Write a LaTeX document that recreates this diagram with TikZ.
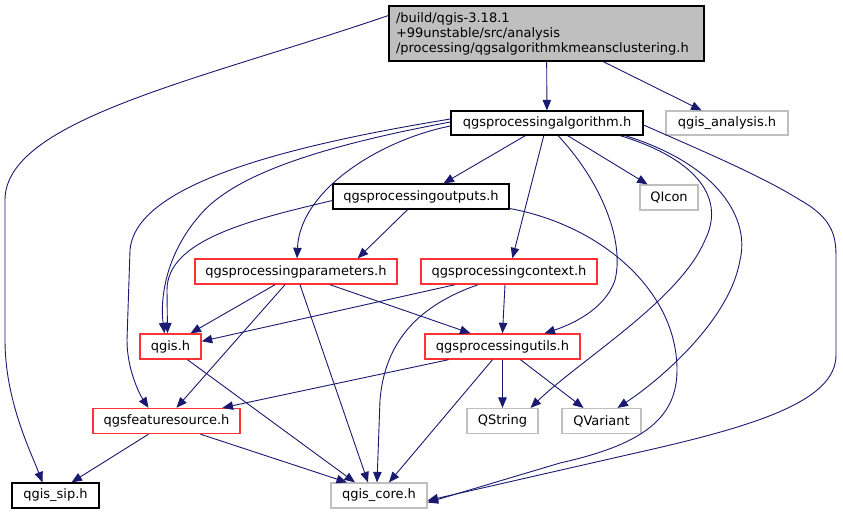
\documentclass[tikz,border=0pt]{standalone}
\usepackage{fontspec}
\setmainfont{DejaVu Sans}
\usetikzlibrary{arrows.meta,positioning,shapes}
\definecolor{edgeblue}{HTML}{191970}
\definecolor{boxgray}{HTML}{BFBFBF}
\definecolor{boxred}{HTML}{FF3333}

\begin{document}
\begin{tikzpicture}[x=1pt,y=-1pt,->,>={Triangle[length=10.5pt,width=8.5pt]},line width=0.9pt,draw=edgeblue]
\tikzstyle{every node}=[font=\fontsize{13}{15}\selectfont,text=black,inner sep=0pt]
\tikzstyle{file}=[rectangle,draw=black,line width=1.2pt,minimum height=25pt]
\tikzstyle{redfile}=[file,draw=boxred,line width=1.4pt]
\tikzstyle{extfile}=[file,draw=boxgray]

\useasboundingbox (0,0) rectangle (843,515);

\node[file,fill=boxgray,minimum width=315pt,minimum height=55pt,text width=301pt,align=left] (A) at (546.5,33.5) {/build/qgis-3.18.1\\+99unstable/src/analysis\\/processing/qgsalgorithmkmeansclustering.h};
\node[file,minimum width=192pt,minimum height=24pt] (B) at (547,123) {qgsprocessingalgorithm.h};
\node[extfile,minimum width=122pt,minimum height=24pt] (C) at (727,123) {qgis\_analysis.h};
\node[file,minimum width=176pt] (D) at (421,196.5) {qgsprocessingoutputs.h};
\node[extfile,minimum width=58pt] (E) at (669,197.5) {QIcon};
\node[redfile,minimum width=202pt] (F) at (296,271.5) {qgsprocessingparameters.h};
\node[redfile,minimum width=176pt] (G) at (509,271.5) {qgsprocessingcontext.h};
\node[redfile,minimum width=61pt] (H) at (170.5,346.5) {qgis.h};
\node[redfile,minimum width=155pt] (I) at (502.5,346.5) {qgsprocessingutils.h};
\node[redfile,minimum width=147pt] (J) at (166.5,421) {qgsfeaturesource.h};
\node[extfile,minimum width=71pt] (K) at (502.5,421) {QString};
\node[extfile,minimum width=79pt] (L) at (601.5,421) {QVariant};
\node[file,minimum width=87pt] (M) at (55.5,495.5) {qgis\_sip.h};
\node[extfile,minimum width=96pt] (N) at (379,495.5) {qgis\_core.h};

\path
(A) edge (B)
(A) edge (C)
(B) edge (D)
(B) edge (E)
(B) edge (G)
(D) edge ([xshift=-40pt]F.north east)
([xshift=-21pt]F.south) edge ([xshift=20pt]H.north)
([xshift=-11pt]F.south) edge ([xshift=10pt]J.north)
([xshift=4pt]F.south) edge ([xshift=-11pt]N.north)
([xshift=34pt]F.south) edge ([xshift=-32pt]I.north)
([xshift=-54pt]G.south) edge ([yshift=-8pt]H.north east)
([xshift=-4pt]G.south) edge ([xshift=0pt]I.north)
([xshift=-54pt]I.south) edge ([xshift=56pt]J.north)
(I) edge (K)
([xshift=18pt]I.south) edge ([xshift=-18pt]L.north)
([xshift=-10pt]I.south) edge ([xshift=10pt]N.north)
([xshift=17pt]H.south) edge ([xshift=-24pt]N.north)
([xshift=-18pt]J.south) edge ([xshift=16pt]M.north)
([xshift=34pt]J.south) edge ([xshift=-32pt]N.north)
;

% curved connectors
\draw ([yshift=18pt]A.west) .. controls (200,80) and (5,120) .. (5,200) -- (5,340)
  .. controls (5,400) and (30,450) .. ([xshift=-13pt]M.north);
\draw ([yshift=4pt]B.west) .. controls (260,150) and (135,190) .. (130,250) -- (127,340)
  .. controls (127,370) and (140,395) .. ([xshift=-18pt]J.north);
\draw ([yshift=1pt]B.west) .. controls (300,150) and (230,180) .. (200,215)
  .. controls (165,255) and (160,300) .. ([xshift=-6pt]H.north);
\draw ([yshift=-3pt]B.west) .. controls (380,140) and (300,190) .. ([xshift=1pt]F.north);
\draw ([yshift=-4pt]D.west) .. controls (250,220) and (167,240) .. (167,290) -- ([xshift=-3pt]H.north);
\draw ([xshift=11pt]B.south) .. controls (600,180) and (625,240) .. (615,280)
  .. controls (605,310) and (570,325) .. ([xshift=42pt]I.north);
\draw ([xshift=73pt]B.south) .. controls (700,160) and (725,200) .. (705,240)
  .. controls (680,300) and (580,360) .. ([xshift=28pt]K.north);
\draw ([xshift=78pt]B.south) .. controls (720,165) and (750,220) .. (740,260)
  .. controls (730,320) and (660,380) .. ([xshift=16pt]L.north);
\draw ([yshift=-2pt]B.east) .. controls (700,150) and (760,175) .. (800,200)
  .. controls (836,220) and (836,240) .. (836,260) -- (836,355)
  .. controls (836,400) and (760,425) .. (640,452) -- ([yshift=-5pt]N.east);
\draw ([yshift=-12pt]D.east) .. controls (600,225) and (677,290) .. (677,370)
  .. controls (677,420) and (640,445) .. (560,463) -- ([yshift=-7pt]N.east);
\draw ([xshift=-31pt]G.south) .. controls (420,305) and (385,340) .. (380,400) -- ([xshift=-2pt]N.north);
\end{tikzpicture}
\end{document}
